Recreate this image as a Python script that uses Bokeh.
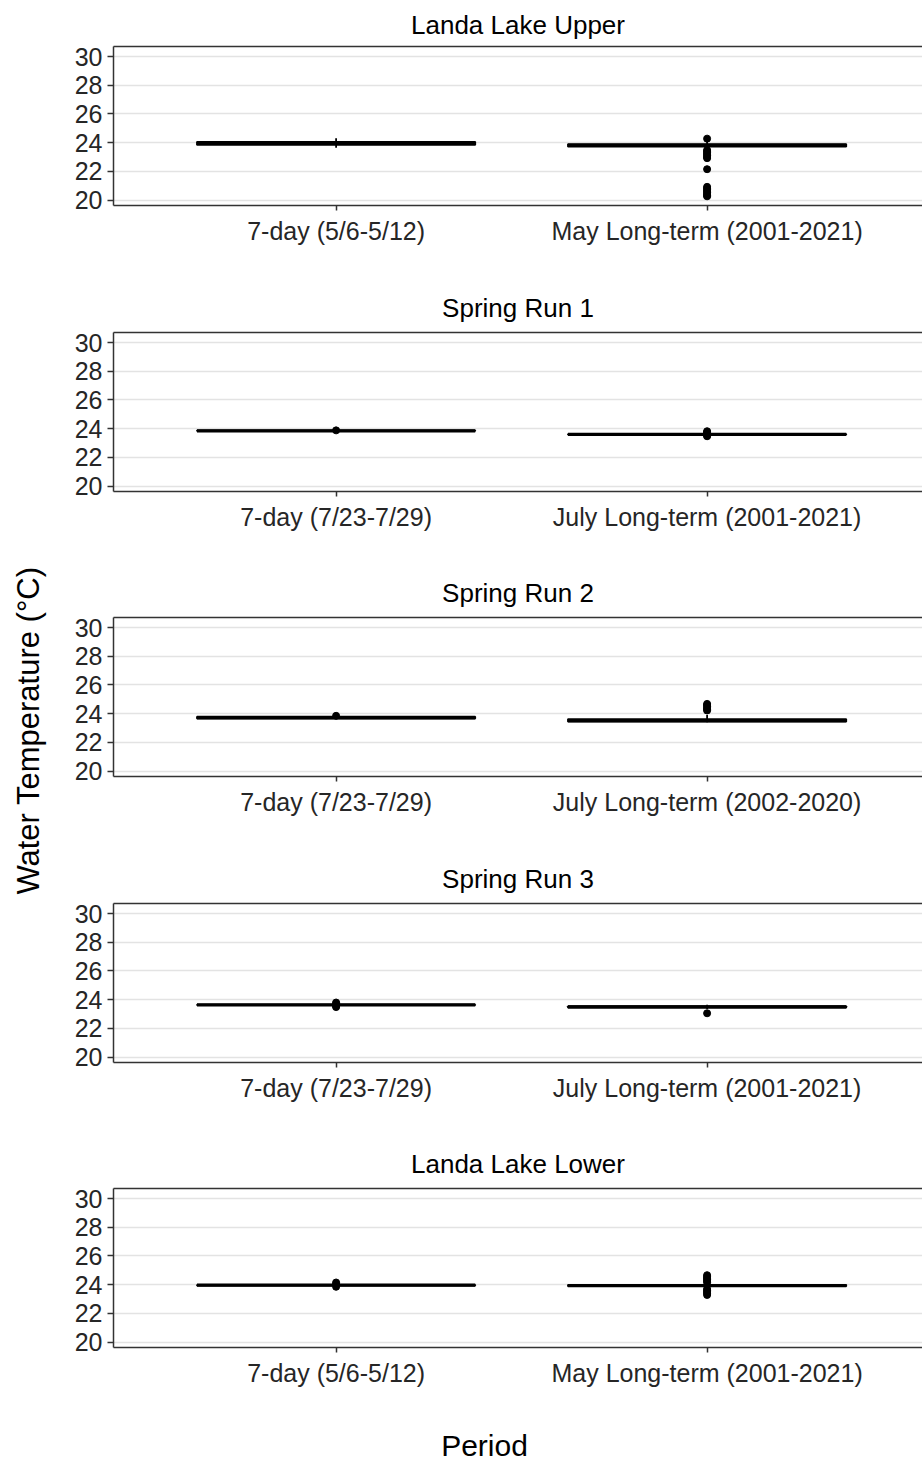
import math
from bokeh.plotting import figure
from bokeh.layouts import column, row
from bokeh.models import Range1d, FixedTicker, ColumnDataSource, LinearAxis
from bokeh.core.properties import value
from bokeh.embed import file_html
from bokeh.resources import INLINE

# ---------------- data ----------------
panel_titles = ["Landa Lake Upper", "Spring Run 1", "Spring Run 2",
                "Spring Run 3", "Landa Lake Lower"]
panel_categories = [
    ["7-day (5/6-5/12)", "May Long-term (2001-2021)"],
    ["7-day (7/23-7/29)", "July Long-term (2001-2021)"],
    ["7-day (7/23-7/29)", "July Long-term (2002-2020)"],
    ["7-day (7/23-7/29)", "July Long-term (2001-2021)"],
    ["7-day (5/6-5/12)", "May Long-term (2001-2021)"],
]
# per panel: [7-day, long-term]
q1 = [[23.84, 23.72], [23.84, 23.58], [23.66, 23.44], [23.62, 23.44], [23.94, 23.88]]
median = [[23.95, 23.82], [23.85, 23.60], [23.72, 23.52], [23.63, 23.49], [23.96, 23.94]]
q3 = [[24.06, 23.90], [23.87, 23.62], [23.79, 23.62], [23.65, 23.54], [23.98, 23.99]]
whisker_lo = [[23.65, 23.60], [23.84, 23.58], [23.66, 23.40], [23.62, 23.35], [23.94, 23.80]]
whisker_hi = [[24.30, 24.10], [23.87, 23.62], [23.79, 23.90], [23.65, 23.65], [23.98, 24.05]]
outliers = [
    [[], [24.28, 23.48, 23.40, 23.30, 23.20, 23.10, 23.00, 22.92, 22.15,
          20.92, 20.82, 20.72, 20.62, 20.52, 20.42, 20.32, 20.26]],
    [[23.88], [23.82, 23.75, 23.68, 23.52, 23.47]],
    [[23.85], [24.68, 24.60, 24.50, 24.40, 24.30, 24.22]],
    [[23.80, 23.72, 23.55, 23.48], [23.05]],
    [[24.15, 24.05, 23.85], [24.66, 24.55, 24.45, 24.35, 24.25, 24.15,
                             23.70, 23.60, 23.50, 23.40, 23.28]],
]
y_ticks = [20, 22, 24, 26, 28, 30]
y_axis_title = "Water Temperature (°C)"
x_axis_title = "Period"

# ---------------- styling ----------------
FONT = "Liberation Sans"
BOX_W = 0.75
BORDER = "#333333"
TXT = "#262626"
LEFT_W = 48
TOTAL_W = 922
TOTAL_H = 1463
PANEL_W = TOTAL_W - LEFT_W
heights = [279, 285, 286, 285, 260]
tops = [46, 53, 53, 53, 53]
standoffs = [13, 19, 19, 19, 19]
FRAME_H = 159
LEFT_B = 65
PX_PER_UNIT = 371.0
frame_w = PANEL_W - LEFT_B

panels = []
for i in range(5):
    h = heights[i]
    p = figure(width=PANEL_W, height=h,
               x_range=Range1d(0.4, 0.4 + frame_w / PX_PER_UNIT),
               y_range=Range1d(19.62, 30.70),
               output_backend="svg", toolbar_location=None,
               min_border_left=LEFT_B, min_border_right=0,
               min_border_top=tops[i], min_border_bottom=h - tops[i] - FRAME_H)
    p.outline_line_color = None
    p.background_fill_color = "white"
    p.border_fill_color = "white"

    p.title.text = panel_titles[i]
    p.title.align = "center"
    p.title.text_font = FONT
    p.title.text_font_size = "26px"
    p.title.text_font_style = "normal"
    p.title.text_color = "black"
    p.title.standoff = standoffs[i]

    xs = [1, 2]
    src = ColumnDataSource(dict(
        x=xs,
        x0=[v - BOX_W / 2 for v in xs],
        x1=[v + BOX_W / 2 for v in xs],
        q1=q1[i], q3=q3[i], med=median[i],
        lo=whisker_lo[i], hi=whisker_hi[i]))

    # whiskers
    p.segment(x0="x", x1="x", y0="q3", y1="hi", source=src,
              line_color="black", line_width=1.8)
    p.segment(x0="x", x1="x", y0="q1", y1="lo", source=src,
              line_color="black", line_width=1.8)
    # boxes
    p.vbar(x="x", width=BOX_W, bottom="q1", top="q3", source=src,
           fill_color="white", line_color="black", line_width=1.8)
    # medians
    p.segment(x0="x0", x1="x1", y0="med", y1="med", source=src,
              line_color="black", line_width=3.2)
    # outliers
    ox, oy = [], []
    for k in range(2):
        for v in outliers[i][k]:
            ox.append(xs[k])
            oy.append(v)
    p.scatter(x=ox, y=oy, size=7, color="black")

    # axes
    p.xaxis.ticker = FixedTicker(ticks=xs)
    p.xaxis.major_label_overrides = {1: panel_categories[i][0], 2: panel_categories[i][1]}
    p.yaxis.ticker = FixedTicker(ticks=y_ticks)
    for ax in (p.xaxis[0], p.yaxis[0]):
        ax.axis_line_color = BORDER
        ax.axis_line_width = 1.5
        ax.major_tick_line_color = BORDER
        ax.major_tick_line_width = 1.5
        ax.major_tick_in = 0
        ax.minor_tick_line_color = None
        ax.major_label_text_font = FONT
        ax.major_label_text_font_size = "25px"
        ax.major_label_text_color = TXT
    p.xaxis.major_tick_out = 5
    p.xaxis.major_label_standoff = 6
    p.yaxis.major_tick_out = 6
    p.yaxis.major_label_standoff = 5

    top = LinearAxis(ticker=FixedTicker(ticks=[]), axis_line_color=BORDER,
                     axis_line_width=1.5, major_tick_out=0, major_tick_in=0,
                     minor_tick_out=0, minor_tick_in=0,
                     major_label_text_font_size="0px", major_label_standoff=0)
    p.add_layout(top, "above")

    p.xgrid.visible = False
    p.ygrid.ticker = FixedTicker(ticks=y_ticks)
    p.ygrid.grid_line_color = "#E3E3E3"
    p.ygrid.grid_line_width = 1.5
    panels.append(p)

col_h = sum(heights)
left = figure(width=LEFT_W, height=col_h, x_range=Range1d(0, LEFT_W),
              y_range=Range1d(0, col_h), x_axis_type=None, y_axis_type=None,
              output_backend="svg", toolbar_location=None, min_border=0)
left.outline_line_color = None
left.grid.visible = False
left.text(x=[28], y=[col_h - 730], text=[y_axis_title], angle=math.pi / 2,
          text_align="center", text_baseline="middle", text_font=value(FONT),
          text_font_size="31px", text_color="black")

BOT_H = TOTAL_H - col_h
bottom = figure(width=TOTAL_W, height=BOT_H, x_range=Range1d(0, TOTAL_W),
                y_range=Range1d(0, BOT_H), x_axis_type=None, y_axis_type=None,
                output_backend="svg", toolbar_location=None, min_border=0)
bottom.outline_line_color = None
bottom.grid.visible = False
bottom.text(x=[484], y=[TOTAL_H - 1445], text=[x_axis_title],
            text_align="center", text_baseline="middle", text_font=value(FONT),
            text_font_size="30px", text_color="black")

layout = column(row(left, column(*panels, spacing=0), spacing=0), bottom, spacing=0)

open("out.html", "w").write(file_html(layout, INLINE))
